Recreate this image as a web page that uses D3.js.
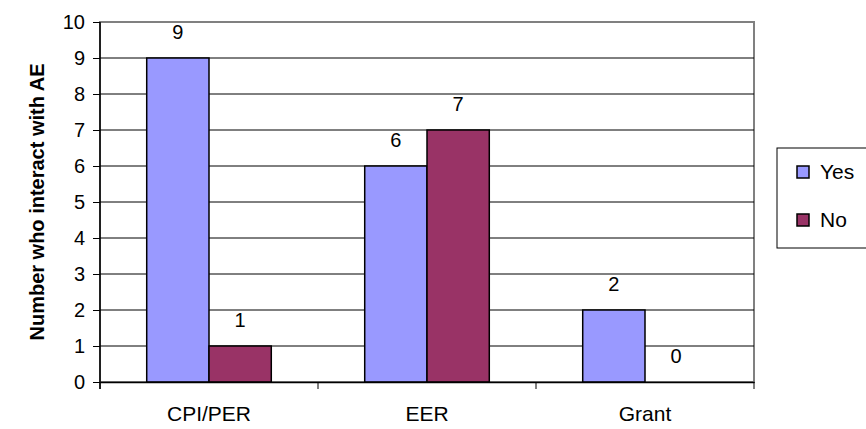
<!DOCTYPE html>
<html>
<head>
<meta charset="utf-8">
<script src="https://cdn.jsdelivr.net/npm/d3@7"></script>
<style>
  html, body { margin: 0; padding: 0; background: #fff; }
  svg { display: block; font-family: Arial, "Liberation Sans", sans-serif; }
</style>
</head>
<body>
<svg id="chart" width="866" height="429"></svg>
<script>
// Survey responses by programme
const categories = ["CPI/PER", "EER", "Grant"];
const seriesNames = ["Yes", "No"];
const yesValues = [9, 6, 2];
const noValues = [1, 7, 0];
const yTicks = [0, 1, 2, 3, 4, 5, 6, 7, 8, 9, 10];
const colors = ["#9999ff", "#993366"];

const svg = d3.select("#chart");
const margin = { left: 100, right: 112, top: 22, bottom: 47 };
const W = 866, H = 429;
const plotW = W - margin.left - margin.right;
const plotH = H - margin.top - margin.bottom;
const fs = 20;
const fsCat = 21;

const rows = categories.map((c, i) => ({ cat: c, vals: [yesValues[i], noValues[i]] }));

const x0 = d3.scaleBand().domain(categories).range([0, plotW]).paddingInner(0).paddingOuter(0);
const barW = x0.bandwidth() / 3.5;
const y = d3.scaleLinear().domain([0, 10]).range([plotH, 0]);

const g = svg.append("g").attr("transform", `translate(${margin.left},${margin.top})`);

// plot frame
g.append("rect").attr("x", 0).attr("y", 0).attr("width", plotW).attr("height", plotH)
  .attr("fill", "none").attr("stroke", "#808080").attr("stroke-width", 2);

// gridlines
g.selectAll("line.grid").data(yTicks.filter(t => t > 0 && t < 10)).join("line")
  .attr("class", "grid")
  .attr("x1", 0).attr("x2", plotW)
  .attr("y1", d => y(d)).attr("y2", d => y(d))
  .attr("stroke", "#000").attr("stroke-width", 1);

// bars
const groups = g.selectAll("g.cat").data(rows).join("g").attr("class", "cat")
  .attr("transform", d => `translate(${x0(d.cat) + x0.bandwidth() / 2},0)`);

groups.selectAll("rect").data(d => d.vals.map((v, k) => ({ v, k }))).join("rect")
  .attr("x", d => (d.k === 0 ? -barW : 0))
  .attr("y", d => y(d.v))
  .attr("width", barW)
  .attr("height", d => y(0) - y(d.v))
  .attr("fill", d => colors[d.k])
  .attr("stroke", "#000").attr("stroke-width", 1.5)
  .attr("display", d => d.v === 0 ? "none" : null);

// value labels
groups.selectAll("text").data(d => d.vals.map((v, k) => ({ v, k }))).join("text")
  .attr("x", d => (d.k === 0 ? -barW / 2 : barW / 2))
  .attr("y", d => y(d.v) - 19)
  .attr("text-anchor", "middle")
  .attr("font-size", fs)
  .text(d => d.v);

// y axis
const yAxis = g.append("g").call(d3.axisLeft(y).tickValues(yTicks).tickSize(7).tickPadding(8).tickFormat(d3.format("d")));
yAxis.select(".domain").attr("stroke", "#000").attr("stroke-width", 1.5).attr("d", `M0,${plotH + 7}V0`);
yAxis.selectAll(".tick line").attr("stroke", "#000");
yAxis.selectAll(".tick text").attr("font-size", fs).attr("fill", "#000").attr("font-family", "Arial, 'Liberation Sans', sans-serif");

// x axis
const xAxis = g.append("g").attr("transform", `translate(0,${plotH})`)
  .call(d3.axisBottom(x0).tickSize(0).tickPadding(24));
xAxis.select(".domain").attr("stroke", "#000").attr("stroke-width", 1.5);
xAxis.selectAll(".tick text").attr("font-size", fsCat).attr("fill", "#000").attr("font-family", "Arial, 'Liberation Sans', sans-serif");
// category separator ticks
g.selectAll("line.xtick").data(d3.range(categories.length + 1)).join("line")
  .attr("class", "xtick")
  .attr("x1", i => i * x0.step()).attr("x2", i => i * x0.step())
  .attr("y1", plotH).attr("y2", plotH + 7)
  .attr("stroke", "#000").attr("stroke-width", 1);

// y axis title
svg.append("text")
  .attr("transform", `translate(44,${margin.top + plotH / 2}) rotate(-90)`)
  .attr("text-anchor", "middle")
  .attr("font-size", fs).attr("font-weight", "bold")
  .text("Number who interact with AE");

// legend
const lg = svg.append("g").attr("transform", "translate(777,148)");
lg.append("rect").attr("x", 0).attr("y", 0).attr("width", 100).attr("height", 100)
  .attr("fill", "#fff").attr("stroke", "#000").attr("stroke-width", 1);
seriesNames.forEach((s, i) => {
  const yy = 24 + i * 48;
  lg.append("rect").attr("x", 20).attr("y", yy - 6).attr("width", 12).attr("height", 12)
    .attr("fill", colors[i]).attr("stroke", "#000").attr("stroke-width", 1.5);
  lg.append("text").attr("x", 43).attr("y", yy).attr("dy", "0.35em")
    .attr("font-size", fsCat).text(s);
});
</script>
</body>
</html>
